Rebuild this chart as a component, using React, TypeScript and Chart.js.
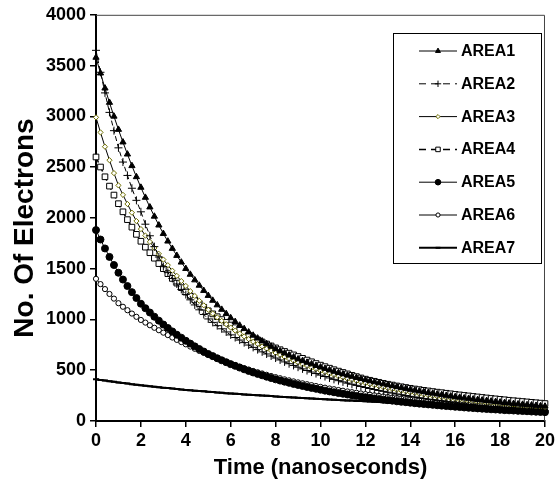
import React, { useEffect, useRef } from "react";
import { Chart, registerables } from "chart.js";
import { drawPoint } from "chart.js/helpers";

Chart.register(...registerables);

const TIME = [
  0, 0.2, 0.4, 0.6, 0.8, 1, 1.2, 1.4, 1.6, 1.8, 2, 2.2, 2.4, 2.6, 2.8, 3, 3.2, 3.4, 3.6, 3.8,
  4, 4.2, 4.4, 4.6, 4.8, 5, 5.2, 5.4, 5.6, 5.8, 6, 6.2, 6.4, 6.6, 6.8, 7, 7.2, 7.4, 7.6, 7.8,
  8, 8.2, 8.4, 8.6, 8.8, 9, 9.2, 9.4, 9.6, 9.8, 10, 10.2, 10.4, 10.6, 10.8, 11, 11.2, 11.4, 11.6, 11.8,
  12, 12.2, 12.4, 12.6, 12.8, 13, 13.2, 13.4, 13.6, 13.8, 14, 14.2, 14.4, 14.6, 14.8, 15, 15.2, 15.4, 15.6, 15.8,
  16, 16.2, 16.4, 16.6, 16.8, 17, 17.2, 17.4, 17.6, 17.8, 18, 18.2, 18.4, 18.6, 18.8, 19, 19.2, 19.4, 19.6, 19.8,
  20,
];

const AREA1 = [
  3580, 3425, 3277, 3136, 3000, 2870, 2746, 2627, 2513, 2404,
  2300, 2201, 2106, 2015, 1928, 1845, 1770, 1698, 1629, 1563,
  1500, 1443, 1388, 1335, 1284, 1235, 1187, 1142, 1098, 1056,
  1015, 978, 942, 908, 875, 843, 815, 787, 760, 735,
  710, 689, 668, 648, 629, 610, 593, 577, 561, 545,
  530, 516, 502, 488, 475, 462, 450, 438, 427, 416,
  405, 394, 384, 374, 364, 355, 346, 336, 327, 319,
  310, 302, 294, 287, 279, 272, 265, 258, 251, 244,
  238, 232, 226, 221, 215, 210, 205, 200, 195, 190,
  185, 180, 176, 171, 167, 163, 159, 156, 152, 148,
  145,
];

const AREA2 = [
  3650, 3434, 3231, 3039, 2859, 2690, 2550, 2418, 2292, 2173,
  2060, 1938, 1824, 1717, 1615, 1520, 1461, 1404, 1349, 1296,
  1245, 1193, 1143, 1095, 1049, 1005, 971, 939, 908, 877,
  848, 822, 797, 772, 748, 725, 703, 681, 660, 640,
  620, 601, 582, 564, 547, 530, 513, 497, 482, 467,
  452, 438, 424, 410, 397, 385, 373, 362, 351, 340,
  330, 320, 310, 301, 292, 283, 275, 266, 258, 251,
  243, 236, 229, 222, 215, 209, 203, 197, 191, 185,
  180, 175, 169, 164, 160, 155, 151, 146, 142, 138,
  134, 130, 126, 123, 119, 116, 113, 109, 106, 103,
  100,
];

const AREA3 = [
  2990, 2842, 2701, 2568, 2441, 2320, 2227, 2137, 2051, 1969,
  1890, 1826, 1764, 1704, 1646, 1590, 1534, 1480, 1429, 1378,
  1330, 1279, 1231, 1184, 1139, 1095, 1058, 1021, 986, 953,
  920, 890, 861, 833, 806, 780, 757, 734, 712, 691,
  670, 650, 630, 611, 593, 575, 558, 542, 526, 510,
  495, 481, 467, 453, 440, 428, 416, 405, 394, 383,
  372, 362, 352, 342, 332, 323, 314, 306, 298, 290,
  282, 275, 267, 260, 254, 247, 241, 234, 228, 223,
  217, 211, 206, 201, 196, 191, 187, 182, 178, 174,
  170, 166, 162, 159, 155, 152, 149, 146, 143, 140,
  137,
];

const AREA4 = [
  2600, 2501, 2405, 2313, 2225, 2140, 2060, 1983, 1909, 1838,
  1770, 1712, 1657, 1603, 1550, 1500, 1451, 1404, 1358, 1313,
  1270, 1231, 1192, 1155, 1120, 1085, 1055, 1027, 999, 972,
  945, 919, 893, 868, 844, 820, 799, 778, 758, 739,
  720, 702, 685, 668, 651, 635, 617, 600, 583, 566,
  550, 535, 520, 505, 491, 478, 464, 450, 437, 424,
  412, 401, 391, 381, 371, 362, 354, 345, 337, 330,
  322, 315, 309, 302, 296, 290, 284, 279, 273, 268,
  262, 257, 252, 247, 242, 237, 232, 227, 222, 218,
  213, 209, 204, 200, 196, 192, 188, 184, 180, 176,
  172,
];

const AREA5 = [
  1880, 1787, 1699, 1616, 1536, 1460, 1393, 1329, 1269, 1211,
  1155, 1111, 1068, 1027, 988, 950, 916, 882, 850, 820,
  790, 762, 735, 709, 684, 660, 639, 618, 598, 579,
  560, 543, 526, 509, 493, 478, 464, 450, 436, 423,
  410, 398, 387, 376, 365, 355, 345, 335, 326, 317,
  308, 299, 291, 283, 275, 268, 261, 254, 247, 240,
  234, 228, 222, 216, 210, 205, 200, 194, 189, 185,
  180, 175, 171, 167, 163, 159, 155, 151, 147, 144,
  140, 137, 133, 130, 127, 124, 121, 118, 115, 113,
  110, 107, 105, 103, 100, 98, 96, 93, 91, 89,
  87,
];

const AREA6 = [
  1400, 1348, 1299, 1251, 1205, 1160, 1125, 1091, 1058, 1026,
  995, 969, 943, 918, 894, 870, 846, 822, 799, 777,
  755, 733, 711, 690, 670, 650, 632, 615, 598, 581,
  565, 550, 535, 520, 507, 493, 480, 468, 455, 443,
  432, 421, 410, 400, 390, 380, 371, 362, 353, 344,
  336, 328, 320, 313, 305, 298, 291, 284, 278, 271,
  265, 259, 253, 247, 242, 236, 231, 226, 221, 216,
  211, 207, 202, 198, 193, 189, 185, 181, 177, 173,
  169, 166, 162, 159, 155, 152, 149, 146, 143, 140,
  137, 134, 131, 128, 126, 123, 121, 118, 116, 113,
  111,
];

const AREA7 = [
  410, 404, 398, 392, 386, 380, 374, 369, 363, 358,
  352, 347, 342, 338, 333, 328, 324, 319, 315, 310,
  306, 302, 299, 295, 292, 288, 285, 281, 278, 274,
  271, 268, 265, 262, 259, 256, 253, 250, 248, 245,
  242, 239, 237, 234, 232, 229, 227, 224, 222, 219,
  217, 215, 212, 210, 207, 205, 203, 201, 198, 196,
  194, 192, 190, 187, 185, 183, 181, 179, 176, 174,
  172, 170, 168, 165, 163, 161, 159, 157, 154, 152,
  150, 148, 146, 143, 141, 139, 137, 135, 132, 130,
  128, 126, 124, 121, 119, 117, 115, 113, 110, 108,
  106,
];

const SERIES_NAMES = ["AREA1", "AREA2", "AREA3", "AREA4", "AREA5", "AREA6", "AREA7"];
const SERIES_VALUES = [AREA1, AREA2, AREA3, AREA4, AREA5, AREA6, AREA7];
const X_TICKS = [0, 2, 4, 6, 8, 10, 12, 14, 16, 18, 20];
const Y_TICKS = [0, 500, 1000, 1500, 2000, 2500, 3000, 3500, 4000];
const X_TITLE = "Time (nanoseconds)";
const Y_TITLE = "No. Of Electrons";

const FONT = '"Liberation Sans", Arial, Helvetica, sans-serif';

const STYLES = [
  { pointStyle: "triangle", radius: 3.6, bg: "#000", border: "#000", pbw: 1, dash: [], lw: 1 },
  { pointStyle: "cross", radius: 4, bg: "#000", border: "#000", pbw: 1, dash: [5, 3], lw: 1 },
  { pointStyle: "rectRot", radius: 2.6, bg: "#fff", border: "#6f6f00", pbw: 1, dash: [], lw: 1 },
  { pointStyle: "rect", radius: 4, bg: "#fff", border: "#000", pbw: 1, dash: [6, 4], lw: 1.5 },
  { pointStyle: "circle", radius: 3.5, bg: "#000", border: "#000", pbw: 1, dash: [], lw: 1 },
  { pointStyle: "circle", radius: 2.6, bg: "#fff", border: "#000", pbw: 1, dash: [], lw: 1 },
  { pointStyle: "line", radius: 3, bg: "#000", border: "#000", pbw: 2, dash: [], lw: 2 },
];

const framePlugin = {
  id: "frame",
  beforeDatasetsDraw(chart: any) {
    const { ctx, chartArea: a } = chart;
    ctx.save();
    ctx.strokeStyle = "#444";
    ctx.lineWidth = 1;
    ctx.beginPath();
    ctx.moveTo(a.left, a.top + 0.5);
    ctx.lineTo(a.right - 0.5, a.top + 0.5);
    ctx.lineTo(a.right - 0.5, a.bottom);
    ctx.stroke();
    ctx.restore();
  },
  afterDraw(chart: any) {
    const { ctx } = chart;
    ctx.save();
    ctx.fillStyle = "#000";
    ctx.font = `bold 28px ${FONT}`;
    ctx.textAlign = "center";
    ctx.textBaseline = "middle";
    ctx.translate(25, 228);
    ctx.rotate(-Math.PI / 2);
    ctx.fillText(Y_TITLE, 0, 0);
    ctx.restore();
  },
};

const legendPlugin = {
  id: "boxLegend",
  afterDatasetsDraw(chart: any) {
    const { ctx } = chart;
    const x0 = 393.5, y0 = 33.5, w = 148, h = 230;
    ctx.save();
    ctx.fillStyle = "#fff";
    ctx.fillRect(x0, y0, w, h);
    ctx.strokeStyle = "#000";
    ctx.lineWidth = 1;
    ctx.strokeRect(x0, y0, w, h);
    SERIES_NAMES.forEach((name, i) => {
      const s = STYLES[i];
      const cy = 51 + i * 32.8;
      ctx.save();
      ctx.strokeStyle = "#000";
      ctx.lineWidth = s.lw;
      ctx.setLineDash(s.dash.length ? [7, 5] : []);
      ctx.beginPath();
      ctx.moveTo(419, cy);
      ctx.lineTo(457, cy);
      ctx.stroke();
      ctx.restore();
      ctx.save();
      ctx.fillStyle = s.bg;
      ctx.strokeStyle = s.border;
      ctx.lineWidth = s.pbw;
      drawPoint(ctx, { pointStyle: s.pointStyle, radius: s.radius * 0.8, borderWidth: s.pbw, rotation: 0 }, 438, cy);
      ctx.restore();
      ctx.fillStyle = "#000";
      ctx.font = `bold 16px ${FONT}`;
      ctx.textBaseline = "middle";
      ctx.textAlign = "left";
      ctx.fillText(name, 461, cy + 0.5);
    });
    ctx.restore();
  },
};

export default function App() {
  const ref = useRef<HTMLCanvasElement | null>(null);

  useEffect(() => {
    document.body.style.margin = "0";
    const canvas = ref.current;
    if (!canvas) return;
    const datasets = SERIES_NAMES.map((name, i) => {
      const s = STYLES[i];
      return {
        label: name,
        data: TIME.map((t, j) => ({ x: t, y: SERIES_VALUES[i][j] })),
        borderColor: "#000",
        borderWidth: s.lw,
        borderDash: s.dash,
        pointStyle: s.pointStyle,
        pointRadius: s.radius,
        pointBackgroundColor: s.bg,
        pointBorderColor: s.border,
        pointBorderWidth: s.pbw,
        fill: false,
        tension: 0,
        clip: 8,
      };
    });
    const chart = new Chart(canvas, {
      type: "line",
      data: { datasets },
      options: {
        animation: false,
        responsive: false,
        maintainAspectRatio: false,
        events: [],
        layout: { padding: { top: 14, right: 12, left: 0, bottom: 0 } },
        plugins: { legend: { display: false }, tooltip: { enabled: false } },
        scales: {
          x: {
            type: "linear",
            min: 0,
            max: 20,
            afterFit: (s: any) => { s.height = 64; },
            afterBuildTicks: (s: any) => { s.ticks = X_TICKS.map((v) => ({ value: v })); },
            ticks: { color: "#000", font: { family: FONT, size: 18, weight: "bold" }, padding: 3, maxRotation: 0, callback: (v: any) => String(v) },
            grid: { display: true, drawOnChartArea: false, drawTicks: true, tickLength: 6, color: "#000", lineWidth: 1.5 },
            border: { display: true, color: "#000", width: 2 },
            title: { display: true, text: X_TITLE, color: "#000", font: { family: FONT, size: 22, weight: "bold" }, padding: { top: 0, bottom: 4 } },
          },
          y: {
            type: "linear",
            min: 0,
            max: 4000,
            afterFit: (s: any) => { s.width = 96; },
            afterBuildTicks: (s: any) => { s.ticks = Y_TICKS.map((v) => ({ value: v })); },
            ticks: { color: "#000", font: { family: FONT, size: 18, weight: "bold" }, padding: 4, callback: (v: any) => String(v) },
            grid: { display: true, drawOnChartArea: false, drawTicks: true, tickLength: 6, color: "#000", lineWidth: 1.5 },
            border: { display: true, color: "#000", width: 2 },
            title: { display: false },
          },
        },
      },
      plugins: [framePlugin, legendPlugin],
    } as any);
    return () => chart.destroy();
  }, []);

  return (
    <div style={{ width: 558, height: 485, background: "#fff" }}>
      <canvas ref={ref} width={558} height={485} style={{ display: "block", width: 558, height: 485 }} />
    </div>
  );
}
